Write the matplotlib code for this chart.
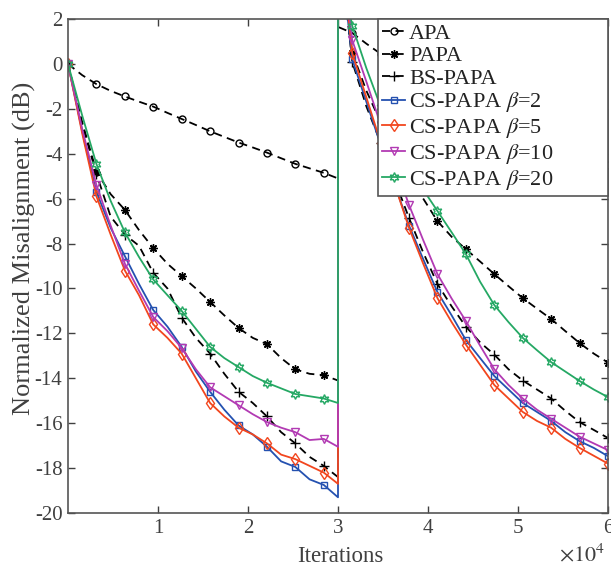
import matplotlib
matplotlib.use('Agg')
import matplotlib.pyplot as plt

# iterations, in units of 10^4 (two halves, system change at 3e4)
x_first = [0, 0.158, 0.316, 0.474, 0.632, 0.789, 0.947, 1.105, 1.263, 1.421,
           1.579, 1.737, 1.895, 2.053, 2.211, 2.368, 2.526, 2.684, 2.842, 3.0]
x_second = [3.0, 3.158, 3.316, 3.474, 3.632, 3.789, 3.947, 4.105, 4.263, 4.421,
            4.579, 4.737, 4.895, 5.053, 5.211, 5.368, 5.526, 5.684, 5.842, 6.0]

# normalized misalignment (dB)
apa = [0, -0.5, -0.9, -1.2, -1.45, -1.68, -1.9, -2.18, -2.45, -2.72,
       -3.0, -3.25, -3.5, -3.72, -3.95, -4.2, -4.45, -4.65, -4.85, -5.1]
apa_2 = [1.65, 1.38, 0.9, 0.45, 0.0, -0.4, -0.8, -1.2, -1.55, -1.9,
         -2.2, -2.5, -2.8, -3.1, -3.35, -3.6, -3.85, -4.1, -4.3, -4.5]
papa = [0, -2.6, -4.8, -5.8, -6.5, -7.4, -8.2, -8.9, -9.45, -10.0,
        -10.6, -11.2, -11.76, -12.2, -12.48, -13.1, -13.6, -13.8, -13.86, -14.1]
papa_2 = [6.0, 0.5, -1.2, -2.6, -3.9, -5.0, -6.0, -7.0, -7.7, -8.25,
          -8.8, -9.36, -9.9, -10.43, -10.9, -11.36, -11.9, -12.43, -12.9, -13.3]
bs = [0, -2.7, -4.9, -6.8, -7.6, -8.1, -9.3, -10.0, -11.3, -12.2,
      -12.9, -13.8, -14.6, -15.1, -15.7, -16.4, -16.9, -17.5, -17.9, -18.4]
bs_2 = [6.0, 0.1, -1.9, -3.5, -5.2, -6.86, -8.4, -9.8, -10.8, -11.7,
        -12.4, -12.95, -13.6, -14.1, -14.5, -14.9, -15.45, -15.95, -16.3, -16.66]
cs2 = [0, -3.0, -5.7, -7.3, -8.56, -9.8, -10.96, -11.7, -12.6, -13.7,
       -14.6, -15.4, -16.1, -16.5, -17.05, -17.7, -17.95, -18.5, -18.75, -19.3]
cs2_2 = [6.0, 0.2, -1.7, -3.6, -5.4, -7.2, -8.7, -10.16, -11.2, -12.3,
         -13.1, -13.9, -14.5, -15.1, -15.5, -15.9, -16.4, -16.8, -17.1, -17.47]
cs5 = [0, -3.1, -5.9, -7.6, -9.2, -10.3, -11.6, -12.2, -12.9, -14.0,
       -15.1, -15.7, -16.2, -16.5, -16.9, -17.4, -17.6, -17.9, -18.2, -18.7]
cs5_2 = [6.5, 0.48, -1.5, -3.5, -5.4, -7.3, -8.9, -10.43, -11.5, -12.5,
         -13.4, -14.3, -14.9, -15.5, -15.9, -16.2, -16.7, -17.1, -17.45, -17.8]
cs10 = [0, -2.9, -5.4, -7.2, -8.9, -10.1, -11.27, -11.9, -12.65, -13.6,
        -14.4, -14.8, -15.2, -15.6, -15.95, -16.2, -16.4, -16.75, -16.7, -17.05]
cs10_2 = [6.5, 1.06, -0.8, -2.7, -4.5, -6.28, -7.85, -9.36, -10.45, -11.45,
          -12.55, -13.6, -14.3, -14.9, -15.4, -15.8, -16.2, -16.6, -16.9, -17.2]
cs20 = [0, -2.3, -4.46, -6.1, -7.5, -8.6, -9.6, -10.3, -11.0, -11.8,
        -12.6, -13.1, -13.5, -13.9, -14.2, -14.45, -14.7, -14.8, -14.9, -15.1]
cs20_2 = [5.0, 1.7, -0.2, -1.9, -3.4, -4.7, -5.6, -6.55, -7.5, -8.47,
          -9.7, -10.74, -11.5, -12.2, -12.75, -13.28, -13.7, -14.12, -14.5, -14.84]

labels = ['APA', 'PAPA', 'BS-PAPA', r'CS-PAPA $\beta$=2', r'CS-PAPA $\beta$=5',
          r'CS-PAPA $\beta$=10', r'CS-PAPA $\beta$=20']
xticks = [1, 2, 3, 4, 5, 6]
yticks = list(range(-20, 3, 2))

plt.rcParams['font.family'] = ['Liberation Serif', 'DejaVu Serif']
plt.rcParams['mathtext.fontset'] = 'stix'
plt.rcParams['axes.unicode_minus'] = False

fig = plt.figure(figsize=(6.11, 5.68), dpi=100)
ax = fig.add_axes([0.1113, 0.0968, 0.8838, 0.8697])

xs = x_first + x_second
marks = list(range(0, 19, 2)) + list(range(21, 40, 2))
styles = [
    (apa + apa_2, 'k', '--', 'o', 5),
    (papa + papa_2, 'k', '--', (8, 2, 0), 6),
    (bs + bs_2, 'k', '--', '+', 7),
    (cs2 + cs2_2, '#2451B0', '-', 's', 5),
    (cs5 + cs5_2, '#F2461E', '-', 'd', 6),
    (cs10 + cs10_2, '#B23AB3', '-', 'v', 6),
    (cs20 + cs20_2, '#25A864', '-', (6, 1, 0), 7),
]
for (ys, c, ls, mk, ms), lab in zip(styles, labels):
    line, = ax.plot(xs, ys, color=c, ls=ls, lw=1.3, marker=mk, ms=ms,
                    mfc='none', mec=c, mew=1.0, markevery=marks, label=lab)
    if ls == '--':
        line.set_dashes((4.5, 3))

ax.set_xlim(0, 6)
ax.set_ylim(-20, 2)
ax.set_xticks(xticks)
ax.set_yticks(yticks)
ax.tick_params(direction='in', length=5, width=1, top=True, right=True,
               labelsize=15, colors='#404040', pad=4)
for s in ax.spines.values():
    s.set_color('#555555')
    s.set_linewidth(1.2)

fig.text(24 / 611, 1 - 248 / 568, 'Normalized Misalignment (dB)', rotation=90,
         fontsize=19, color='#404040', ha='center', va='center')
fig.text(340 / 611, 1 - 557 / 568, 'Iterations', fontsize=16.5,
         color='#404040', ha='center', va='center')
fig.text(0.915, 0.003, r'$\times10^4$', fontsize=16, color='#404040', va='bottom')

leg = ax.legend(loc='upper left', bbox_to_anchor=(0.574, 0.5, 0.426, 0.5),
                mode='expand', fontsize=16, frameon=True, fancybox=False,
                framealpha=1, edgecolor='#555555', borderaxespad=0,
                handlelength=1.0, handletextpad=0.2, labelspacing=0.08,
                borderpad=0.2)
leg.get_frame().set_linewidth(1.2)
for t in leg.get_texts():
    t.set_color('#222222')

fig.savefig('out.png', dpi=100)
